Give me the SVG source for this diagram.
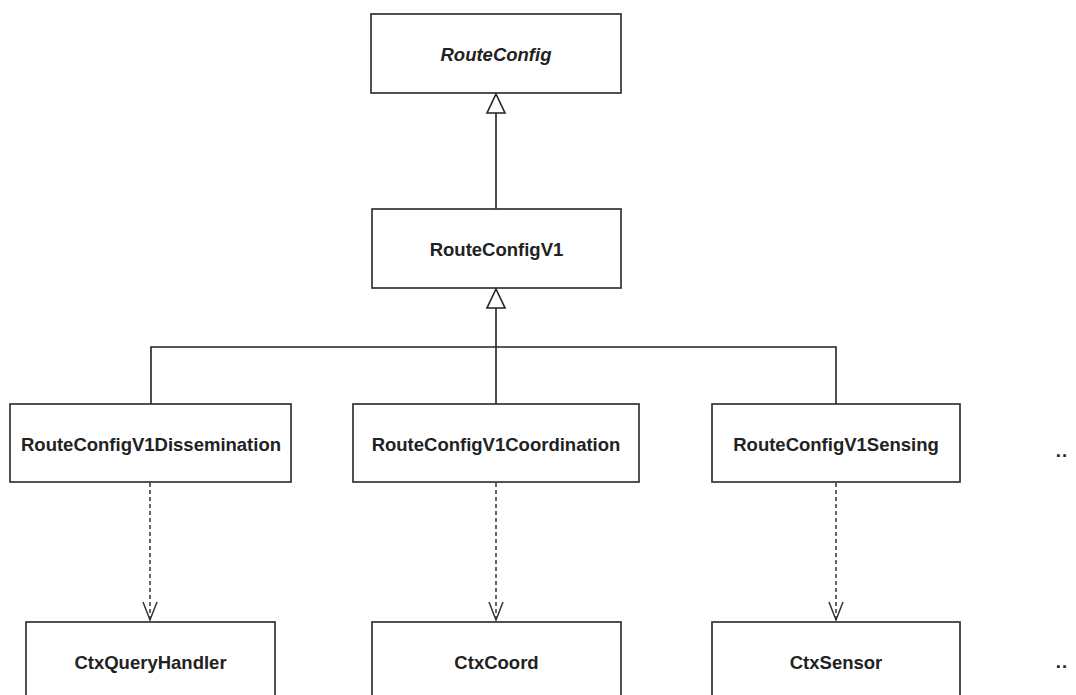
<svg xmlns="http://www.w3.org/2000/svg" width="1076" height="695" viewBox="0 0 1076 695">
<style>
.box{fill:#fff;stroke:#333;stroke-width:1.7}
.lbl{font-family:"Liberation Sans",Arial,sans-serif;font-weight:bold;font-size:18.5px;fill:#222;text-anchor:middle}
.edge{fill:none;stroke:#222;stroke-width:1.6}
.dash{fill:none;stroke:#333;stroke-width:1.5;stroke-dasharray:4 3}
</style>
<defs>
<marker id="tri" markerUnits="userSpaceOnUse" markerWidth="24" markerHeight="24" viewBox="-21 -12 24 24" refX="0" refY="0" orient="auto">
<path d="M0,0 L-19,-9 L-19,9 Z" fill="#fff" stroke="#222" stroke-width="1.6"/>
</marker>
<marker id="open" markerUnits="userSpaceOnUse" markerWidth="24" markerHeight="20" viewBox="-22 -10 24 20" refX="0" refY="0" orient="auto">
<path d="M-19,-7 L-1,0 L-19,7" fill="none" stroke="#333" stroke-width="1.5"/>
</marker>
</defs>
<g id="connectors">
<path class="edge" d="M496,209 V94" marker-end="url(#tri)"/>
<path class="edge" d="M496,347 V289" marker-end="url(#tri)"/>
<path class="edge" d="M151,404 V347 H836 V404"/>
<path class="edge" d="M496,347 V404"/>
<path class="dash" d="M150,483 V621" marker-end="url(#open)"/>
<path class="dash" d="M496,483 V621" marker-end="url(#open)"/>
<path class="dash" d="M836,483 V621" marker-end="url(#open)"/>
</g>
<g id="RouteConfig">
<rect class="box" x="371" y="14" width="250" height="79"/>
<text class="lbl" x="496" y="61" font-style="italic">RouteConfig</text>
</g>
<g id="RouteConfigV1">
<rect class="box" x="372" y="209" width="249" height="79"/>
<text class="lbl" x="496.5" y="256">RouteConfigV1</text>
</g>
<g id="RouteConfigV1Dissemination">
<rect class="box" x="10" y="404" width="281" height="78"/>
<text class="lbl" x="151" y="451">RouteConfigV1Dissemination</text>
</g>
<g id="RouteConfigV1Coordination">
<rect class="box" x="353" y="404" width="286" height="78"/>
<text class="lbl" x="496" y="451">RouteConfigV1Coordination</text>
</g>
<g id="RouteConfigV1Sensing">
<rect class="box" x="712" y="404" width="248" height="78"/>
<text class="lbl" x="836" y="451">RouteConfigV1Sensing</text>
</g>
<g id="CtxQueryHandler">
<rect class="box" x="26" y="622" width="249" height="90"/>
<text class="lbl" x="150.5" y="669">CtxQueryHandler</text>
</g>
<g id="CtxCoord">
<rect class="box" x="372" y="622" width="249" height="90"/>
<text class="lbl" x="496.5" y="669">CtxCoord</text>
</g>
<g id="CtxSensor">
<rect class="box" x="712" y="622" width="248" height="90"/>
<text class="lbl" x="836" y="669">CtxSensor</text>
</g>
<g id="more">
<text class="lbl" x="1062" y="457" letter-spacing="1">..</text>
<text class="lbl" x="1062" y="668" letter-spacing="1">..</text>
</g>
</svg>
